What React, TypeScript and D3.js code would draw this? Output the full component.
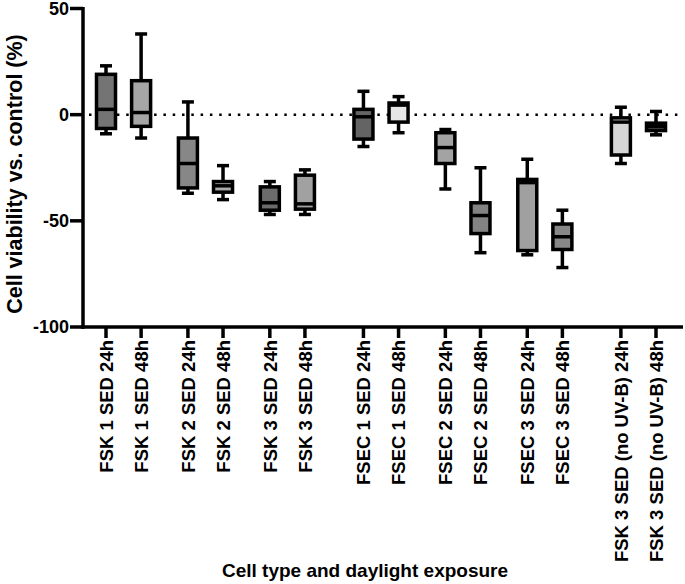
import { scaleLinear } from "d3";

// values, in %
const categories = [
  "FSK 1 SED 24h",
  "FSK 1 SED 48h",
  "FSK 2 SED 24h",
  "FSK 2 SED 48h",
  "FSK 3 SED 24h",
  "FSK 3 SED 48h",
  "FSEC 1 SED 24h",
  "FSEC 1 SED 48h",
  "FSEC 2 SED 24h",
  "FSEC 2 SED 48h",
  "FSEC 3 SED 24h",
  "FSEC 3 SED 48h",
  "FSK 3 SED (no UV-B) 24h",
  "FSK 3 SED (no UV-B) 48h",
];
// which section each category belongs to (bigger gap between sections)
const sections = [0, 0, 0, 0, 0, 0, 1, 1, 1, 1, 1, 1, 2, 2];
const whiskerMax = [23, 38, 6, -24, -31.5, -26, 11, 8.5, -7, -25, -21, -45, 3.5, 1.5];
const q3 = [19, 16, -11, -31.5, -34, -28.5, 2.5, 5.5, -8.5, -41.5, -30.5, -51.5, -1.5, -4];
const median = [2.5, 1, -23, -33.5, -41.5, -42, -1, 4.5, -15.5, -47.5, -32, -57.5, -3.5, -5.5];
const q1 = [-6.5, -5.5, -34.5, -36.5, -45, -44.5, -11.5, -3.5, -23, -56, -64, -63.5, -19, -7.5];
const whiskerMin = [-9, -11, -37, -40, -47, -47, -15, -8.5, -35, -65, -66, -72, -23, -9.5];
const fills = [
  "#747474", "#a6a6a6", "#878787", "#ababab", "#6b6b6b", "#a1a1a1", "#646464",
  "#e6e6e6", "#a3a3a3", "#838383", "#a0a0a0", "#888888", "#d6d6d6", "#4a4a4a",
];
const yTicks = [-100, -50, 0, 50];

const WIDTH = 685;
const HEIGHT = 584;
const AXIS_X = 83;
const AXIS_Y = 327;
const FONT = "'Liberation Sans', Arial, Helvetica, sans-serif";
const BOX_W = 19;
const CAP_W = 12;
const STROKE = 3.5;

// slot index: 1 unit between the two times, 1.33 between pairs, 1.67 between sections
const slots: number[] = [];
categories.forEach((_, i) => {
  if (i === 0) {
    slots.push(0);
    return;
  }
  const prev = slots[i - 1];
  if (i % 2 === 1) slots.push(prev + 1);
  else if (sections[i] !== sections[i - 1]) slots.push(prev + 5 / 3);
  else slots.push(prev + 4 / 3);
});

export default function App() {
  const x = scaleLinear()
    .domain([0, slots[slots.length - 1]])
    .range([106, 656]);
  const y = scaleLinear().domain([-100, 50]).range([AXIS_Y, 8.5]);

  return (
    <svg
      width={WIDTH}
      height={HEIGHT}
      style={{ position: "absolute", left: 0, top: 0, background: "#fff" }}
      fontFamily={FONT}
      fontWeight="bold"
    >
      {/* zero reference line */}
      <line
        x1={AXIS_X + 6}
        x2={683}
        y1={y(0)}
        y2={y(0)}
        stroke="#000"
        strokeWidth={2.5}
        strokeDasharray="2.5,6.8"
      />

      {categories.map((c, i) => {
        const cx = x(slots[i]);
        return (
          <g key={c}>
            <line x1={cx} x2={cx} y1={y(whiskerMax[i])} y2={y(whiskerMin[i])} stroke="#000" strokeWidth={STROKE} />
            <line
              x1={cx - CAP_W / 2}
              x2={cx + CAP_W / 2}
              y1={y(whiskerMax[i])}
              y2={y(whiskerMax[i])}
              stroke="#000"
              strokeWidth={STROKE}
            />
            <line
              x1={cx - CAP_W / 2}
              x2={cx + CAP_W / 2}
              y1={y(whiskerMin[i])}
              y2={y(whiskerMin[i])}
              stroke="#000"
              strokeWidth={STROKE}
            />
            <rect
              x={cx - BOX_W / 2}
              y={y(q3[i])}
              width={BOX_W}
              height={y(q1[i]) - y(q3[i])}
              fill={fills[i]}
              stroke="#000"
              strokeWidth={STROKE}
            />
            <line
              x1={cx - BOX_W / 2}
              x2={cx + BOX_W / 2}
              y1={y(median[i])}
              y2={y(median[i])}
              stroke="#000"
              strokeWidth={STROKE}
            />
          </g>
        );
      })}

      {/* y axis */}
      <line x1={AXIS_X} x2={AXIS_X} y1={y(50) - 1.5} y2={AXIS_Y + 1.75} stroke="#000" strokeWidth={3.5} />
      {yTicks.map((t) => (
        <g key={t}>
          <line x1={AXIS_X - 13} x2={AXIS_X} y1={y(t)} y2={y(t)} stroke="#000" strokeWidth={3.5} />
          <text x={AXIS_X - 14} y={y(t)} dy="0.36em" textAnchor="end" fontSize={18}>
            {t}
          </text>
        </g>
      ))}

      {/* x axis */}
      <line x1={AXIS_X - 1.75} x2={683} y1={AXIS_Y} y2={AXIS_Y} stroke="#000" strokeWidth={3.5} />
      {categories.map((c, i) => {
        const cx = x(slots[i]);
        return (
          <g key={c}>
            <line x1={cx} x2={cx} y1={AXIS_Y} y2={AXIS_Y + 11} stroke="#000" strokeWidth={3.5} />
            <text
              transform={`translate(${cx},${AXIS_Y + 13}) rotate(-90)`}
              textAnchor="end"
              dy="0.36em"
              fontSize={18.5}
            >
              {c}
            </text>
          </g>
        );
      })}

      <text transform="translate(22,174) rotate(-90)" textAnchor="middle" fontSize={21.5}>
        Cell viability vs. control (%)
      </text>
      <text x={365} y={577} textAnchor="middle" fontSize={19}>
        Cell type and daylight exposure
      </text>
    </svg>
  );
}
